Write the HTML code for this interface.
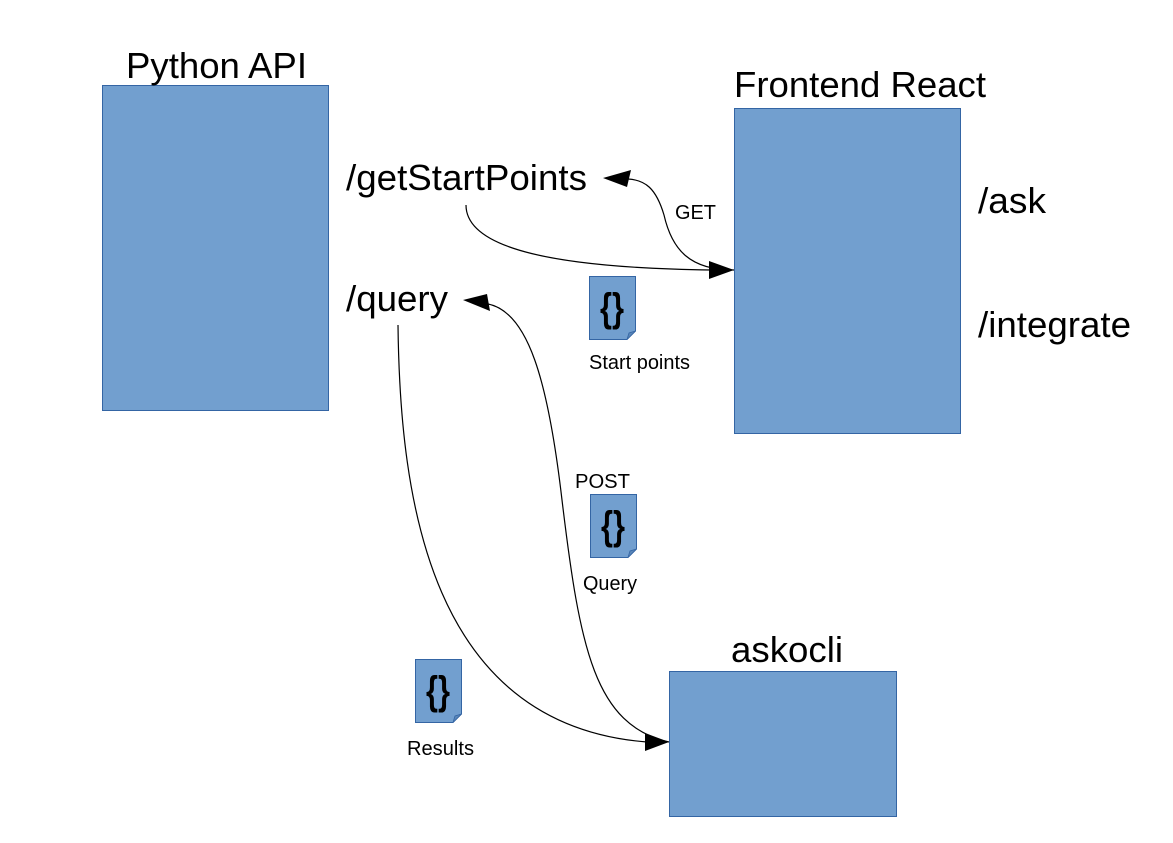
<!DOCTYPE html>
<html><head><meta charset="utf-8"><style>
html,body{margin:0;padding:0;background:#fff;}
svg{display:block;}
text{font-family:"Liberation Sans",sans-serif;fill:#000;}
</style></head><body>
<svg width="1173" height="843" viewBox="0 0 1173 843" xmlns="http://www.w3.org/2000/svg">
<defs>
<g id="doc">
<path d="M0.5,0.5 H46.5 V55 L38,63.5 H0.5 Z" fill="#729fcf" stroke="#3465a4" stroke-width="1"/>
<path d="M46.5,55 L40,57 L38,63.5 Z" fill="#5a86b8" stroke="#3465a4" stroke-width="0.8"/>
</g>
</defs>
<rect x="102.5" y="85.5" width="226" height="325" fill="#729fcf" stroke="#3465a4"/>
<rect x="734.5" y="108.5" width="226" height="325" fill="#729fcf" stroke="#3465a4"/>
<rect x="669.5" y="671.5" width="227" height="145" fill="#729fcf" stroke="#3465a4"/>

<text x="126" y="78" font-size="36" textLength="181" lengthAdjust="spacingAndGlyphs">Python API</text>
<text x="734" y="97" font-size="36" textLength="252" lengthAdjust="spacingAndGlyphs">Frontend React</text>
<text x="346" y="190" font-size="36" textLength="241" lengthAdjust="spacingAndGlyphs">/getStartPoints</text>
<text x="346" y="311" font-size="36" textLength="102" lengthAdjust="spacingAndGlyphs">/query</text>
<text x="978" y="213" font-size="36" textLength="68" lengthAdjust="spacingAndGlyphs">/ask</text>
<text x="978" y="337" font-size="36" textLength="153" lengthAdjust="spacingAndGlyphs">/integrate</text>
<text x="731" y="662" font-size="36" textLength="112" lengthAdjust="spacingAndGlyphs">askocli</text>

<text x="675" y="219" font-size="20" textLength="41" lengthAdjust="spacingAndGlyphs">GET</text>
<text x="589" y="369" font-size="20" textLength="101" lengthAdjust="spacingAndGlyphs">Start points</text>
<text x="575" y="488" font-size="20" textLength="55" lengthAdjust="spacingAndGlyphs">POST</text>
<text x="583" y="590" font-size="20" textLength="54" lengthAdjust="spacingAndGlyphs">Query</text>
<text x="407" y="755" font-size="20" textLength="67" lengthAdjust="spacingAndGlyphs">Results</text>

<use href="#doc" x="589" y="276"/>
<use href="#doc" x="590" y="494"/>
<use href="#doc" x="415" y="659"/>
<text x="612" y="321" font-size="40" font-weight="bold" text-anchor="middle" textLength="24" lengthAdjust="spacingAndGlyphs">{}</text>
<text x="613" y="539" font-size="40" font-weight="bold" text-anchor="middle" textLength="24" lengthAdjust="spacingAndGlyphs">{}</text>
<text x="438" y="704" font-size="40" font-weight="bold" text-anchor="middle" textLength="24" lengthAdjust="spacingAndGlyphs">{}</text>

<g fill="none" stroke="#000" stroke-width="1.2">
<path d="M734,270 C 690,270 672,250 664,215 C 656,188 645,180 628,179"/>
<path d="M466,205 C 466,250 560,268 712,270"/>
<path d="M669,742 C 595,725 580,650 562,500 C 548,380 528,312 488,304"/>
<path d="M398,325 C 400,500 430,725 647,742"/>
</g>
<g fill="#000">
<polygon points="603,178 631,170 627,187"/>
<polygon points="734,270 709,261 709,279"/>
<polygon points="463,300 487,294 490,311"/>
<polygon points="669,742 645,733 645,751"/>
</g>
</svg>
</body></html>
